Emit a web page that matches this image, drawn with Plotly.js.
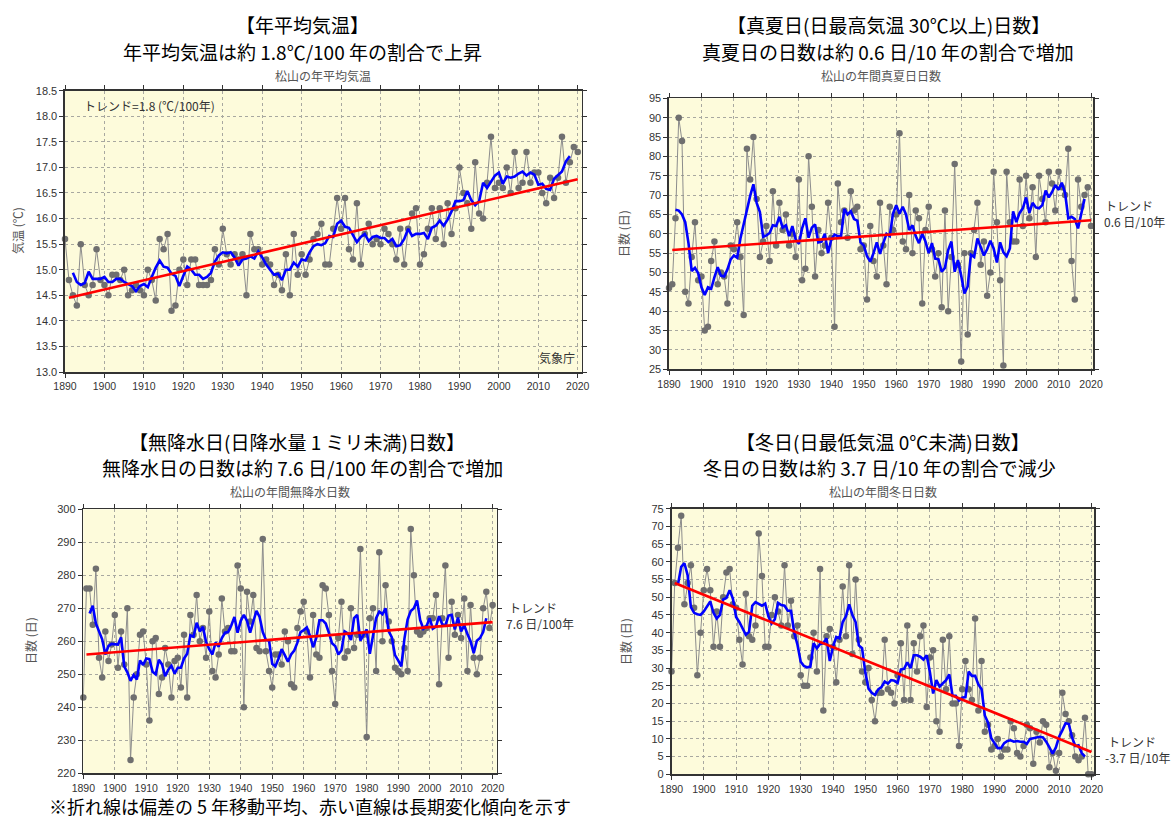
<!DOCTYPE html>
<html>
<head>
<meta charset="utf-8">
<script src="https://cdn.plot.ly/plotly-3.0.1.min.js"></script>
<style>
html,body{margin:0;padding:0;background:#ffffff;}
#chart{width:1173px;height:820px;}
</style>
</head>
<body>
<div id="chart"></div>
<script>
// ---------------- DATA ----------------
const years = [
1890,1891,1892,1893,1894,1895,1896,1897,1898,1899,
1900,1901,1902,1903,1904,1905,1906,1907,1908,1909,
1910,1911,1912,1913,1914,1915,1916,1917,1918,1919,
1920,1921,1922,1923,1924,1925,1926,1927,1928,1929,
1930,1931,1932,1933,1934,1935,1936,1937,1938,1939,
1940,1941,1942,1943,1944,1945,1946,1947,1948,1949,
1950,1951,1952,1953,1954,1955,1956,1957,1958,1959,
1960,1961,1962,1963,1964,1965,1966,1967,1968,1969,
1970,1971,1972,1973,1974,1975,1976,1977,1978,1979,
1980,1981,1982,1983,1984,1985,1986,1987,1988,1989,
1990,1991,1992,1993,1994,1995,1996,1997,1998,1999,
2000,2001,2002,2003,2004,2005,2006,2007,2008,2009,
2010,2011,2012,2013,2014,2015,2016,2017,2018,2019,
2020];

// 年平均気温 (℃)
const tempValues = [
15.6,14.8,14.5,14.3,15.5,14.7,14.5,14.7,15.4,14.8,
14.7,14.5,14.9,14.9,14.8,15.0,14.5,14.6,14.7,14.6,
14.5,15.0,14.8,14.4,15.6,15.4,15.7,14.2,14.3,15.0,
15.2,14.7,15.2,15.2,14.7,14.7,14.7,14.8,15.4,15.1,
15.8,15.3,15.1,15.3,15.2,15.3,14.5,15.7,15.4,15.4,
15.1,15.2,15.1,14.7,14.9,14.6,15.3,14.5,15.7,14.9,
15.3,14.9,15.2,15.6,15.7,15.9,15.1,15.1,15.8,16.4,
15.8,16.4,15.4,15.2,16.3,15.1,15.7,15.9,15.5,15.6,
15.5,15.8,15.7,15.5,15.2,15.8,15.1,15.8,16.1,16.2,
15.1,15.3,15.8,16.2,15.6,16.2,15.5,16.3,15.7,16.2,
17.0,16.5,16.3,15.8,17.1,16.1,16.0,16.7,17.6,16.6,
16.7,16.6,17.0,16.5,17.3,16.6,16.7,17.3,16.7,16.9,
16.9,16.5,16.3,16.8,16.4,16.8,17.6,16.7,17.1,17.4,
17.3];

// 真夏日日数
const summerValues = [
46,47,64,90,84,45,42,54,63,48,
49,35,36,53,58,47,50,49,42,57,
56,63,54,39,82,74,85,69,54,58,
62,53,71,57,68,61,65,57,60,54,
74,48,51,80,67,49,61,55,57,68,
59,36,73,63,66,59,71,66,67,56,
57,43,62,53,49,68,57,47,67,61,
65,86,58,56,70,55,66,64,42,61,
67,56,49,55,41,66,40,54,78,52,
27,55,34,55,61,68,52,58,44,50,
76,63,48,26,76,63,58,58,74,62,
75,64,72,54,75,69,63,76,73,66,
76,72,70,82,53,43,74,67,70,72,
62];

// 無降水日日数
const noRainValues = [
243,276,276,265,282,255,249,263,254,259,
268,252,263,253,270,224,243,250,262,263,
253,236,260,261,244,249,258,253,243,254,
255,246,262,243,268,262,274,260,264,255,
269,251,249,256,273,263,264,257,257,283,
276,240,275,266,274,258,257,291,257,251,
246,256,256,253,263,260,247,246,264,269,
272,263,249,268,256,255,277,276,268,251,
241,261,272,255,257,270,258,262,288,262,
231,267,270,251,287,260,277,266,260,252,
251,250,258,251,294,280,263,262,263,264,
267,267,274,247,267,283,255,272,262,268,
261,273,251,271,255,250,255,270,275,264,
271];

// 冬日日数
const winterValues = [
29,54,64,73,48,54,59,47,28,40,
52,58,52,36,46,36,50,57,58,48,
47,38,31,51,39,38,42,68,56,36,
36,45,50,46,42,59,42,49,39,42,
28,25,25,33,40,29,58,18,39,41,
36,26,38,53,39,59,34,55,38,29,
26,30,21,15,23,23,38,24,23,20,
28,37,21,42,21,37,29,39,42,19,
33,35,15,12,38,24,39,20,20,8,
24,32,24,21,44,18,32,12,14,7,
8,10,5,7,7,15,13,6,5,8,
14,13,3,12,9,15,14,2,6,1,
6,23,17,15,11,5,4,5,16,0,
0];

// 長期変化傾向 (trend line end points)
const trendYears   = [1891, 2020];
const tempTrend    = [14.45, 16.77];
const summerTrend  = [55.8, 63.5];
const noRainTrend  = [256.0, 265.8];
const winterTrend  = [54.0, 6.3];

// tick labels
const xTickStart = 1890, xTickStep = 10;

// ---------------- helpers ----------------
const W = 1173, H = 820;
function fx(px){ return px / W; }
function fy(py){ return 1 - py / H; }

// 5-year centred moving average of the read values
function movingAverage(xs, ys, w){
  const half = (w - 1) / 2, ox = [], oy = [];
  for (let i = half; i < ys.length - half; i++){
    let s = 0;
    for (let j = i - half; j <= i + half; j++) s += ys[j];
    ox.push(xs[i]); oy.push(s / w);
  }
  return {x: ox, y: oy};
}

const panels = [
  {vals: tempValues,   trend: tempTrend,   xd:[65, 581.7],   yd:[372, 90.7],   xr:[1890, 2021],   yr:[13, 18.5],  dt:0.5, fmt:'.1f'},
  {vals: summerValues, trend: summerTrend, xd:[669, 1093.3], yd:[369.3, 98.3], xr:[1890, 2020.7], yr:[25, 95],    dt:5,   fmt:'d'},
  {vals: noRainValues, trend: noRainTrend, xd:[83.3, 496.7], yd:[773.3, 509.3],xr:[1890, 2021.3], yr:[220, 300],  dt:10,  fmt:'d'},
  {vals: winterValues, trend: winterTrend, xd:[671.5, 1094], yd:[774.3, 508.7],xr:[1890, 2020.8], yr:[0, 75],     dt:5,   fmt:'d'}
];

const traces = [];
const layout = {
  width: W, height: H,
  margin: {l:0, r:0, t:0, b:0},
  paper_bgcolor: '#ffffff',
  plot_bgcolor: 'rgba(0,0,0,0)',
  showlegend: false,
  annotations: [],
  shapes: [],
  font: {family: 'Liberation Sans, Arial, sans-serif', color: '#333'}
};

const tickFont = {family: 'Liberation Sans, Arial, sans-serif', size: 11, color: '#333'};

panels.forEach((p, i) => {
  const n = i + 1;
  const xa = n === 1 ? 'x' : 'x' + n;
  const ya = n === 1 ? 'y' : 'y' + n;
  const xk = n === 1 ? 'xaxis' : 'xaxis' + n;
  const yk = n === 1 ? 'yaxis' : 'yaxis' + n;

  traces.push({
    x: years, y: p.vals, xaxis: xa, yaxis: ya, type: 'scatter',
    mode: 'lines+markers', cliponaxis: false,
    line: {color: '#8c8c8c', width: 1},
    marker: {color: '#6f6f6f', size: 6.5}
  });
  const ma = movingAverage(years, p.vals, 5);
  traces.push({
    x: ma.x, y: ma.y, xaxis: xa, yaxis: ya, type: 'scatter', mode: 'lines',
    line: {color: '#0000ff', width: 2.6}
  });
  traces.push({
    x: trendYears, y: p.trend, xaxis: xa, yaxis: ya, type: 'scatter', mode: 'lines',
    line: {color: '#ff0000', width: 2.6}
  });

  layout[xk] = {
    domain: [fx(p.xd[0]), fx(p.xd[1])],
    anchor: ya, range: p.xr,
    tickmode: 'linear', tick0: xTickStart, dtick: xTickStep,
    ticks: 'outside', ticklen: 4, tickcolor: '#333', tickwidth: 1,
    showline: true, linecolor: '#333', linewidth: 1.6, mirror: 'allticks',
    showgrid: true, gridcolor: '#a8a8a0', griddash: 'dot', gridwidth: 1,
    zeroline: false, tickfont: {family: tickFont.family, size: 10.5, color: '#333'}
  };
  layout[yk] = {
    domain: [fy(p.yd[0]), fy(p.yd[1])],
    anchor: xa, range: p.yr,
    tickmode: 'linear', tick0: p.yr[0], dtick: p.dt, tickformat: p.fmt,
    ticks: 'outside', ticklen: 4, tickcolor: '#333', tickwidth: 1,
    showline: true, linecolor: '#333', linewidth: 1.6, mirror: 'allticks',
    showgrid: true, gridcolor: '#a8a8a0', griddash: 'dot', gridwidth: 1,
    zeroline: false, tickfont: tickFont
  };
  layout.shapes.push({
    type: 'rect', xref: 'paper', yref: 'paper', layer: 'below',
    x0: fx(p.xd[0]), x1: fx(p.xd[1]), y0: fy(p.yd[0]), y1: fy(p.yd[1]),
    fillcolor: '#fdfbdb', line: {width: 0}
  });
});

function note(text, px, py, opts){
  const o = Object.assign({size: 12, color: '#333', xanchor: 'center', family: 'Noto Sans CJK JP, sans-serif', angle: 0}, opts || {});
  layout.annotations.push({
    text: text, xref: 'paper', yref: 'paper', x: fx(px), y: fy(py),
    xanchor: o.xanchor, yanchor: 'middle', showarrow: false, textangle: o.angle,
    font: {family: o.family, size: o.size, color: o.color}
  });
}

// headings
const HF = 19;
note('【年平均気温】', 302, 24, {size: HF, color: '#000'});
note('年平均気温は約 1.8℃/100 年の割合で上昇', 302, 51, {size: HF, color: '#000'});
note('【真夏日(日最高気温 30℃以上)日数】', 888, 24, {size: HF, color: '#000'});
note('真夏日の日数は約 0.6 日/10 年の割合で増加', 888, 51, {size: HF, color: '#000'});
note('【無降水日(日降水量 1 ミリ未満)日数】', 297, 441, {size: HF, color: '#000'});
note('無降水日の日数は約 7.6 日/100 年の割合で増加', 302, 468, {size: HF, color: '#000'});
note('【冬日(日最低気温 0℃未満)日数】', 883, 441, {size: HF, color: '#000'});
note('冬日の日数は約 3.7 日/10 年の割合で減少', 879, 468, {size: HF, color: '#000'});

// sub titles
note('松山の年平均気温', 323, 75.5, {size: 12, color: '#555'});
note('松山の年間真夏日日数', 881, 76, {size: 12, color: '#555'});
note('松山の年間無降水日数', 290, 491.5, {size: 12, color: '#555'});
note('松山の年間冬日日数', 883, 491.5, {size: 12, color: '#555'});

// y axis titles
note('気温 (℃)', 17, 231, {size: 12, color: '#555', angle: -90});
note('日数 (日)', 623, 234, {size: 12, color: '#555', angle: -90});
note('日数 (日)', 30, 641, {size: 12, color: '#555', angle: -90});
note('日数 (日)', 625, 642, {size: 12, color: '#555', angle: -90});

// trend notes
const NF = 12;
note('トレンド=1.8 (℃/100年)', 82, 105, {size: NF, color: '#333', xanchor: 'left'});
note('気象庁', 537, 358, {size: NF, color: '#333', xanchor: 'left'});
note('トレンド', 1103, 205, {size: NF, color: '#333', xanchor: 'left'});
note('0.6 日/10年', 1102, 221, {size: NF, color: '#333', xanchor: 'left'});
note('トレンド', 507, 607, {size: NF, color: '#333', xanchor: 'left'});
note('7.6 日/100年', 504, 623, {size: NF, color: '#333', xanchor: 'left'});
note('トレンド', 1106, 741, {size: NF, color: '#333', xanchor: 'left'});
note('-3.7 日/10年', 1103, 757, {size: NF, color: '#333', xanchor: 'left'});

// footnote
note('※折れ線は偏差の 5 年移動平均、赤い直線は長期変化傾向を示す', 47, 806, {size: 18, color: '#000', xanchor: 'left'});

Plotly.newPlot('chart', traces, layout, {displayModeBar: false, staticPlot: true});
</script>
</body>
</html>
